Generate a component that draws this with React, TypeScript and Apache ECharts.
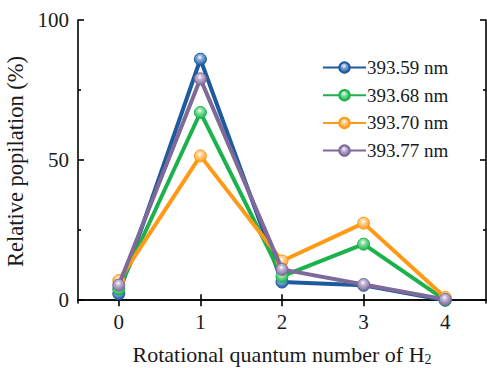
import React, { useEffect, useRef } from "react";
import * as echarts from "echarts";

const categories = ["0", "1", "2", "3", "4"];
const seriesNames = ["393.59 nm", "393.68 nm", "393.70 nm", "393.77 nm"];
const blueValues = [2.3, 86, 6.5, 5.3, 0];
const greenValues = [4, 67, 8.5, 20, 0];
const orangeValues = [7, 51.5, 14, 27.5, 1];
const purpleValues = [5.4, 79, 11, 5.6, 0.3];
const yMajorTicks = [0, 50, 100];
const yMinorTicks = [25, 75];

const colors = ["#1d5a9e", "#1bb24c", "#ff9a17", "#7d6a99"];
const lightColors = ["#8fb4dc", "#8fe2a8", "#ffd59a", "#c6b8d8"];
const FONT = "Liberation Serif";

export default function App() {
  const ref = useRef<HTMLDivElement>(null);
  useEffect(() => {
    const chart = echarts.init(ref.current!, null, { renderer: "svg" });
    const allValues = [blueValues, greenValues, orangeValues, purpleValues];
    const series = allValues.map((vals, i) => ({
      name: seriesNames[i],
      type: "line",
      data: vals,
      xAxisIndex: 0,
      yAxisIndex: 0,
      symbol: "circle",
      symbolSize: 12,
      lineStyle: { color: colors[i], width: 4 },
      itemStyle: {
        color: {
          type: "radial",
          x: 0.45,
          y: 0.35,
          r: 0.65,
          colorStops: [
            { offset: 0, color: "#ffffff" },
            { offset: 0.3, color: lightColors[i] },
            { offset: 1, color: colors[i] },
          ],
        },
        borderColor: colors[i],
        borderWidth: 1,
      },
      z: 2 + i,
    }));
    const axisLine = { show: true, lineStyle: { color: "#000", width: 1.6 } };
    chart.setOption({
      animation: false,
      grid: { left: 78, right: 1, top: 20, bottom: 65, containLabel: false, outerBoundsMode: "none" },
      legend: {
        orient: "vertical",
        left: 317,
        top: 53,
        itemWidth: 43,
        itemHeight: 13,
        itemGap: 8.7,
        data: seriesNames,
        textStyle: { fontFamily: FONT, fontSize: 19, color: "#1a1a1a", padding: [0, 0, 0, -4] },
      },
      xAxis: [
        {
          type: "category",
          data: categories,
          position: "bottom",
          boundaryGap: true,
          axisLine,
          axisTick: { show: true, inside: true, alignWithLabel: true, length: 6, lineStyle: { color: "#000", width: 1.6 } },
          axisLabel: { fontFamily: FONT, fontSize: 21, color: "#1a1a1a", margin: 8 },
          name: "Rotational quantum number of H{sub|2}",
          nameLocation: "middle",
          nameGap: 39,
          nameTextStyle: {
            fontFamily: FONT,
            fontSize: 22,
            color: "#1a1a1a",
            rich: { sub: { fontFamily: FONT, fontSize: 14, color: "#1a1a1a", verticalAlign: "bottom", padding: [10, 0, 0, 0] } },
          },
          splitLine: { show: false },
        },
        {
          type: "category",
          data: categories,
          position: "top",
          boundaryGap: true,
          axisLine,
          axisTick: { show: true, inside: true, alignWithLabel: true, length: 6, lineStyle: { color: "#000", width: 1.6 } },
          axisLabel: { show: false },
          splitLine: { show: false },
        },
      ],
      yAxis: [
        {
          type: "value",
          position: "left",
          min: -1,
          max: 100,
          axisLine,
          axisTick: { show: true, inside: true, length: 6, customValues: yMajorTicks, lineStyle: { color: "#000", width: 1.6 } },
          axisLabel: { fontFamily: FONT, fontSize: 21, color: "#1a1a1a", margin: 9, customValues: yMajorTicks },
          splitLine: { show: false },
          name: "Relative popilation (%)",
          nameLocation: "middle",
          nameGap: 47,
          nameTextStyle: { fontFamily: FONT, fontSize: 22.5, color: "#1a1a1a" },
        },
        {
          type: "value",
          position: "right",
          min: -1,
          max: 100,
          axisLine,
          axisTick: { show: true, inside: true, length: 6, customValues: yMajorTicks, lineStyle: { color: "#000", width: 1.6 } },
          axisLabel: { show: false, customValues: yMajorTicks },
          splitLine: { show: false },
        },
        {
          type: "value",
          position: "left",
          min: -1,
          max: 100,
          axisLine: { show: false },
          axisTick: { show: true, inside: true, length: 3, customValues: yMinorTicks, lineStyle: { color: "#000", width: 1.6 } },
          axisLabel: { show: false, customValues: yMinorTicks },
          splitLine: { show: false },
        },
        {
          type: "value",
          position: "right",
          min: -1,
          max: 100,
          axisLine: { show: false },
          axisTick: { show: true, inside: true, length: 3, customValues: yMinorTicks, lineStyle: { color: "#000", width: 1.6 } },
          axisLabel: { show: false, customValues: yMinorTicks },
          splitLine: { show: false },
        },
      ],
      series,
    });
    return () => chart.dispose();
  }, []);
  return (
    <div
      ref={ref}
      style={{ position: "fixed", left: 0, top: 0, width: 487, height: 368, background: "#fff" }}
    />
  );
}
